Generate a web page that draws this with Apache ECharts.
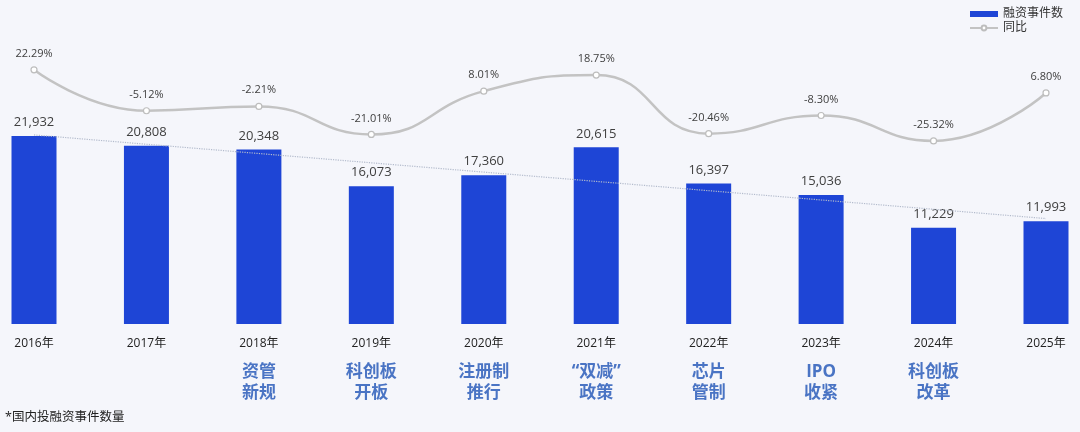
<!DOCTYPE html>
<html>
<head>
<meta charset="utf-8">
<script src="https://cdn.jsdelivr.net/npm/echarts@6/dist/echarts.min.js"></script>
<style>
html,body{margin:0;padding:0;background:#f5f6fb;}
#c{width:1080px;height:432px;}
</style>
</head>
<body>
<div id="c"></div>
<script>
const years = ['2016年','2017年','2018年','2019年','2020年','2021年','2022年','2023年','2024年','2025年'];
const events = ['', '', '资管\n新规', '科创板\n开板', '注册制\n推行', '“双减”\n政策', '芯片\n管制', 'IPO\n收紧', '科创板\n改革', ''];
const deals = [21932, 20808, 20348, 16073, 17360, 20615, 16397, 15036, 11229, 11993];
const yoy = [22.29, -5.12, -2.21, -21.01, 8.01, 18.75, -20.46, -8.30, -25.32, 6.80];

// linear trendline (least squares) of the deal counts
const n = deals.length;
const xm = (n - 1) / 2;
const ym = deals.reduce((a, b) => a + b, 0) / n;
let sxy = 0, sxx = 0;
deals.forEach((v, i) => { sxy += (i - xm) * (v - ym); sxx += (i - xm) * (i - xm); });
const slope = sxy / sxx;
const trend = deals.map((v, i) => +(ym + slope * (i - xm)).toFixed(1));

const FONT = '"Open Sans","Noto Sans CJK SC",sans-serif';
const chart = echarts.init(document.getElementById('c'));
chart.setOption({
  backgroundColor: '#f5f6fb',
  animation: false,
  textStyle: { fontFamily: FONT },
  legend: {
    orient: 'vertical',
    right: 12,
    top: 3,
    itemWidth: 28,
    itemHeight: 6,
    itemGap: 2,
    textStyle: { fontSize: 12, color: '#333', fontFamily: FONT },
    data: [{ name: '融资事件数', icon: 'rect' }, { name: '同比' }]
  },
  grid: { left: 34, right: 34, top: 24, bottom: 108, containLabel: false },
  xAxis: {
    type: 'category',
    data: years,
    boundaryGap: false,
    axisLine: { show: false },
    axisTick: { show: false },
    axisLabel: {
      interval: 0,
      margin: 2,
      showMinLabel: true,
      showMaxLabel: true,
      formatter: function (val, idx) {
        let s = '{y|' + val + '}';
        if (events[idx]) {
          s += '\n' + events[idx].split('\n').map(t => '{a|' + t + '}').join('\n');
        }
        return s;
      },
      rich: {
        y: { fontSize: 12, color: '#222', lineHeight: 36, fontFamily: FONT },
        a: { fontSize: 17, fontWeight: 'bold', color: '#4a74c4', lineHeight: 21, fontFamily: FONT }
      }
    }
  },
  yAxis: [
    { type: 'value', min: 0, max: 35000, show: false, splitLine: { show: false } },
    { type: 'value', min: -148, max: 53, show: false, splitLine: { show: false } }
  ],
  graphic: [{
    type: 'text',
    left: 5,
    top: 411,
    style: { text: '*国内投融资事件数量', fill: '#222', font: '12.5px ' + FONT }
  }],
  series: [
    {
      name: '融资事件数',
      type: 'bar',
      data: deals,
      barWidth: 45,
      clip: false,
      itemStyle: { color: '#1e45d6' },
      label: {
        show: true,
        position: 'top',
        distance: 7,
        fontSize: 13,
        color: '#404040',
        fontFamily: FONT,
        formatter: p => p.value.toLocaleString('en-US')
      },
      z: 2
    },
    {
      name: '趋势',
      type: 'line',
      data: trend,
      symbol: 'none',
      lineStyle: { type: 'dotted', width: 1.2, color: '#b3bbcc' },
      silent: true,
      z: 3
    },
    {
      name: '同比',
      type: 'line',
      yAxisIndex: 1,
      data: yoy,
      smooth: true,
      symbol: 'circle',
      symbolSize: 6,
      itemStyle: { color: '#ffffff', borderColor: '#bdbdbd', borderWidth: 1.2 },
      lineStyle: { color: '#c3c3c3', width: 2.5 },
      label: {
        show: true,
        position: 'top',
        distance: 7,
        fontSize: 11,
        color: '#404040',
        fontFamily: FONT,
        formatter: p => p.value.toFixed(2) + '%'
      },
      z: 4
    }
  ]
});
</script>
</body>
</html>
